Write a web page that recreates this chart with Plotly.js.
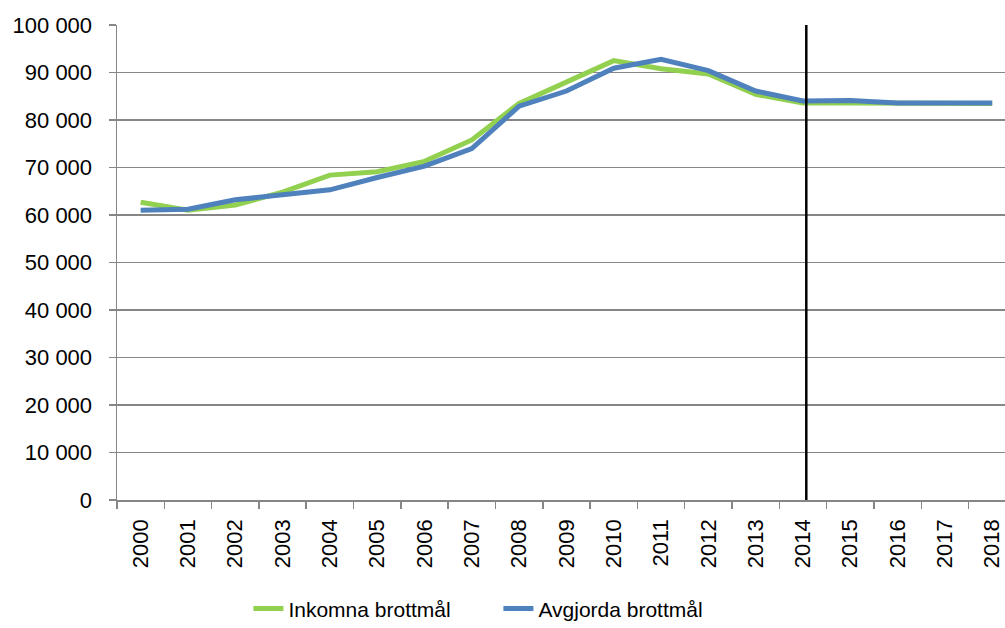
<!DOCTYPE html>
<html>
<head>
<meta charset="utf-8">
<script src="https://cdn.plot.ly/plotly-3.0.1.min.js"></script>
<style>html,body{margin:0;padding:0;background:#fff;}#chart{width:1005px;height:628px;}</style>
</head>
<body>
<div id="chart"></div>
<script>
const years = ['2000','2001','2002','2003','2004','2005','2006','2007','2008','2009','2010','2011','2012','2013','2014','2015','2016','2017','2018'];
const inkomna = [62700, 61000, 62100, 64800, 68400, 69100, 71300, 75800, 83500, 88100, 92500, 90800, 89700, 85400, 83600, 83600, 83500, 83500, 83500];
const avgjorda = [61000, 61200, 63200, 64300, 65300, 67900, 70300, 74000, 82900, 86100, 90900, 92800, 90400, 86100, 84000, 84100, 83600, 83600, 83600];
const yTickVals = [0, 10000, 20000, 30000, 40000, 50000, 60000, 70000, 80000, 90000, 100000];
const yTickText = ['0', '10 000', '20 000', '30 000', '40 000', '50 000', '60 000', '70 000', '80 000', '90 000', '100 000'];
const markerYear = '2014';

const font = {family: 'Liberation Sans, Arial, sans-serif', size: 22, color: '#000'};
const legendFont = {family: 'Liberation Sans, Arial, sans-serif', size: 21, color: '#000'};
const traces = [
  {x: years, y: inkomna, name: 'Inkomna brottmål', type: 'scatter', mode: 'lines',
   line: {color: '#92D050', width: 5}},
  {x: years, y: avgjorda, name: 'Avgjorda brottmål', type: 'scatter', mode: 'lines',
   line: {color: '#4F81BD', width: 5}}
];
const layout = {
  width: 1005, height: 628,
  margin: {l: 117, r: 0, t: 25, b: 128, autoexpand: false},
  paper_bgcolor: '#fff', plot_bgcolor: '#fff',
  font: font,
  showlegend: true,
  legend: {orientation: 'h', x: 0.148, xanchor: 'left', y: -0.229, yanchor: 'middle',
           font: legendFont, entrywidth: 205, tracegroupgap: 0},
  xaxis: {type: 'category', range: [-0.5, 18.27], tickson: 'boundaries',
          ticks: 'outside', ticklen: 7, tickcolor: '#868686', tickwidth: 1.5,
          showline: true, linecolor: '#868686', linewidth: 1.5, automargin: false,
          showgrid: false, tickangle: -90, tickfont: font, zeroline: false,
          ticklabelstandoff: 9},
  yaxis: {range: [0, 100000], tickvals: yTickVals, ticktext: yTickText,
          ticks: 'outside', ticklen: 7, tickcolor: '#868686', tickwidth: 1.5,
          showline: true, linecolor: '#868686', linewidth: 1.5, automargin: false,
          showgrid: true, gridcolor: '#868686', gridwidth: 1.5,
          zeroline: false, tickfont: font, ticklabelstandoff: 12},
  shapes: [{type: 'line', xref: 'x', yref: 'paper', x0: years.indexOf(markerYear) + 0.07, x1: years.indexOf(markerYear) + 0.07,
            y0: 0, y1: 1, line: {color: '#000', width: 2.5}}]
};
Plotly.newPlot('chart', traces, layout, {displayModeBar: false, staticPlot: true});
</script>
</body>
</html>
